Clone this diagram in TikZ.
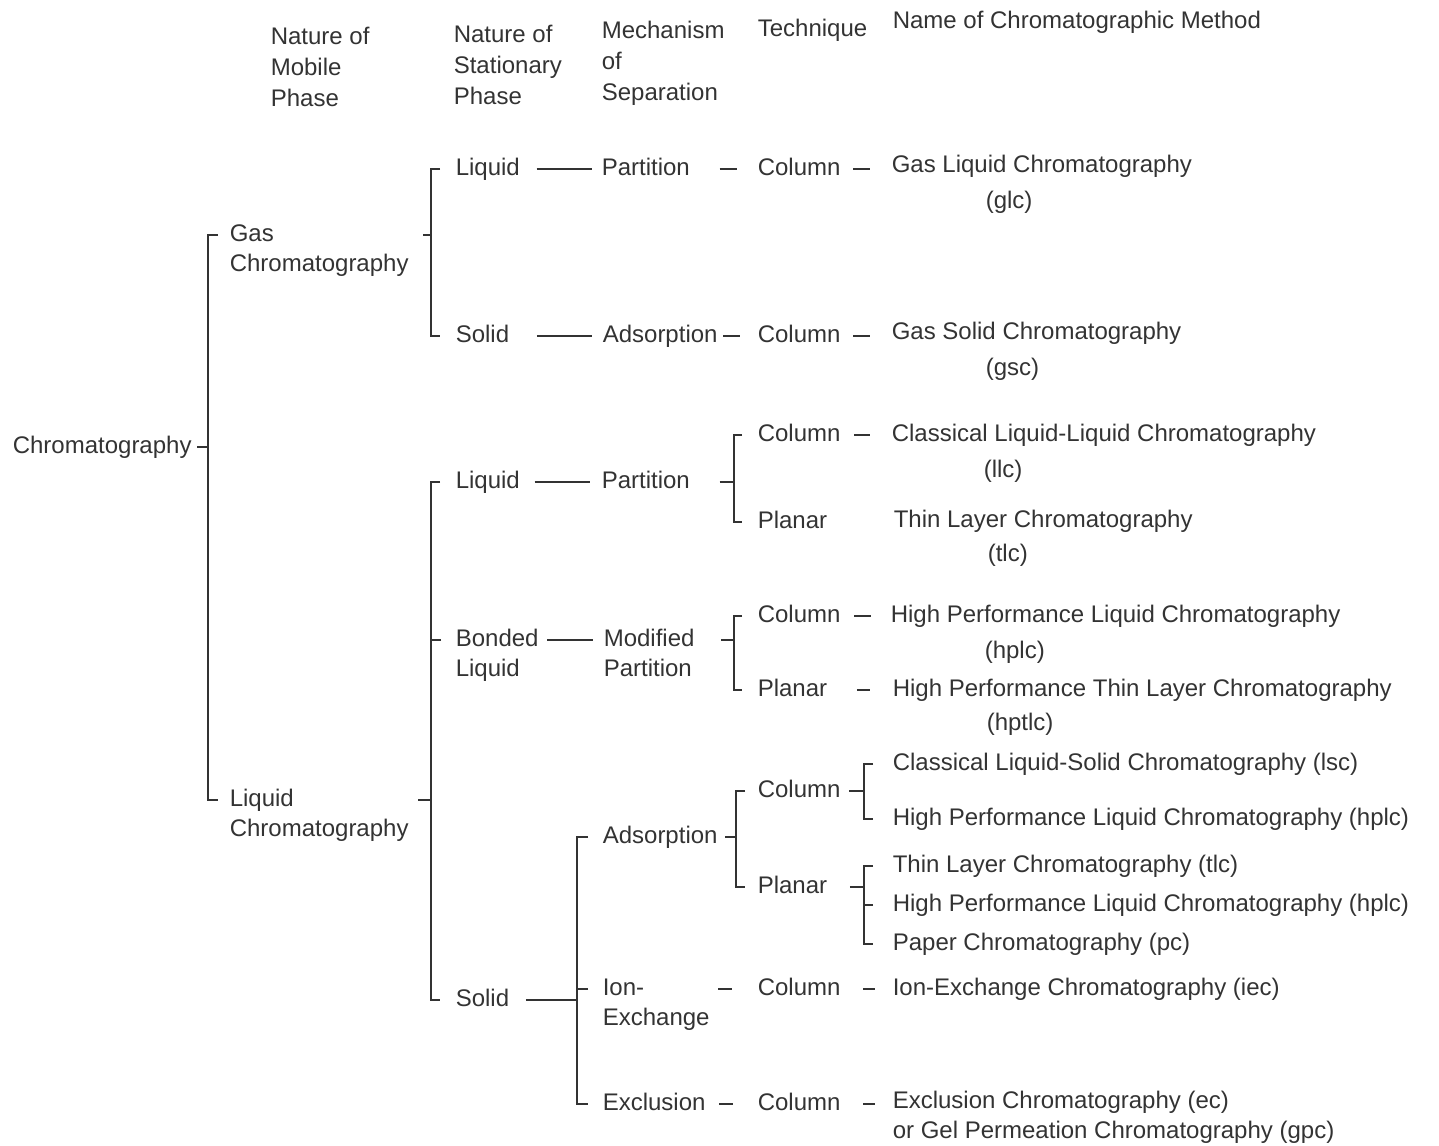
\documentclass[tikz,border=0pt]{standalone}
\usepackage{fontspec}
\setmainfont{Liberation Sans}
\newcommand{\mlines}[1]{\begin{tabular}[t]{@{}l@{}}#1\end{tabular}}

\begin{document}
\begin{tikzpicture}[x=0.5pt,y=-0.5pt,line width=0.8pt,color=black!80,
        every node/.style={font=\fontsize{12}{15}\selectfont},
        lbl/.style={anchor=west,inner sep=0pt,text height=9.6pt,text depth=2.8pt},
        colhead/.style={lbl,font=\fontsize{12}{15.5}\selectfont},
        tie/.style 2 args={shorten <=#1,shorten >=#2},
        fork/.style={shorten <=#1,shorten >=#1}]
    \useasboundingbox (0,0) rectangle (1439,1145);

    % column heads
    \node[colhead] (hmob) at (270,38) {\mlines{Nature of\\Mobile\\Phase}};
    \node[colhead] (hsta) at (453,36) {\mlines{Nature of\\Stationary\\Phase}};
    \node[colhead] (hmec) at (601,32) {\mlines{Mechanism\\of\\Separation}};
    \node[colhead] (htec) at (757,30) {Technique};
    \node[colhead] (hname) at (892,22) {Name of Chromatographic Method};

    % mobile phase
    \node[lbl] (chrom) at (12,447) {Chromatography};
    \node[lbl] (gc) at (229,235) {\mlines{Gas\\Chromatography}};
    \node[lbl] (lc) at (229,800) {\mlines{Liquid\\Chromatography}};

    % gas chromatography
    \node[lbl] (liq1) at (455,169) {Liquid};
    \node[lbl] (par1) at (601,169) {Partition};
    \node[lbl] (col1) at (757,169) {Column};
    \node[lbl] (glc) at (891,166) {\mlines{Gas Liquid Chromatography\\[3pt]\hspace*{47pt}(glc)}};
    \node[lbl] (sol1) at (455,336) {Solid};
    \node[lbl] (ads1) at (602,336) {Adsorption};
    \node[lbl] (col2) at (757,336) {Column};
    \node[lbl] (gsc) at (891,333) {\mlines{Gas Solid Chromatography\\[3pt]\hspace*{47pt}(gsc)}};

    % liquid chromatography
    \node[lbl] (liq2) at (455,482) {Liquid};
    \node[lbl] (par2) at (601,482) {Partition};
    \node[lbl] (col3) at (757,435) {Column};
    \node[lbl] (llc) at (891,435) {\mlines{Classical Liquid-Liquid Chromatography\\[3pt]\hspace*{46pt}(llc)}};
    \node[lbl] (pla1) at (757,522) {Planar};
    \node[lbl] (tlc1) at (893,521) {\mlines{Thin Layer Chromatography\\[2pt]\hspace*{47pt}(tlc)}};

    \node[lbl] (bl) at (455,640) {\mlines{Bonded\\Liquid}};
    \node[lbl] (mp) at (603,640) {\mlines{Modified\\Partition}};
    \node[lbl] (col4) at (757,616) {Column};
    \node[lbl] (hplc1) at (890,616) {\mlines{High Performance Liquid Chromatography\\[3pt]\hspace*{47pt}(hplc)}};
    \node[lbl] (pla2) at (757,690) {Planar};
    \node[lbl] (hptlc) at (892,690) {\mlines{High Performance Thin Layer Chromatography\\[2pt]\hspace*{47pt}(hptlc)}};

    \node[lbl] (sol2) at (455,1000) {Solid};
    \node[lbl] (ads2) at (602,837) {Adsorption};
    \node[lbl] (col5) at (757,791) {Column};
    \node[lbl] (lsc) at (892,764) {Classical Liquid-Solid Chromatography (lsc)};
    \node[lbl] (hplc2) at (892,819) {High Performance Liquid Chromatography (hplc)};
    \node[lbl] (pla3) at (757,887) {Planar};
    \node[lbl] (tlc2) at (892,866) {Thin Layer Chromatography (tlc)};
    \node[lbl] (hplc3) at (892,905) {High Performance Liquid Chromatography (hplc)};
    \node[lbl] (pc) at (892,944) {Paper Chromatography (pc)};
    \node[lbl] (ion) at (602,989) {\mlines{Ion-\\Exchange}};
    \node[lbl] (col6) at (757,989) {Column};
    \node[lbl] (iec) at (892,989) {Ion-Exchange Chromatography (iec)};
    \node[lbl] (exc) at (602,1104) {Exclusion};
    \node[lbl] (col7) at (757,1104) {Column};
    \node[lbl] (ec) at (892,1102) {\mlines{Exclusion Chromatography (ec)\\or Gel Permeation Chromatography (gpc)}};

    % spines of the brackets
    \coordinate (s0) at (208,447);
    \coordinate (s1) at (431,235);
    \coordinate (s2) at (431,800);
    \coordinate (s3) at (734,482);
    \coordinate (s4) at (734,640);
    \coordinate (s5) at (577,1000);
    \coordinate (s6) at (736,837);
    \coordinate (s7) at (864,791);
    \coordinate (s8) at (864,887);

    % brackets
    \draw[shorten <=2.5pt] (chrom) -- (s0);
    \draw[fork=5.5pt] (gc.west) -| (s0) |- (lc.west);
    \draw[shorten <=7pt] (gc.east) -- (s1);
    \draw[fork=7.5pt] (liq1.west) -| (s1) |- (sol1.west);
    \draw[shorten <=4.5pt] (lc.east) -- (s2);
    \draw[fork=7.5pt] (liq2.west) -| (s2) |- (sol2.west);
    \draw[shorten <=7pt] (bl.west) -- (bl.west -| s2);
    \draw[shorten <=14.5pt] (par2) -- (s3);
    \draw[fork=7.5pt] (col3.west) -| (s3) |- (pla1.west);
    \draw[shorten <=13pt] (mp.east) -- (s4);
    \draw[fork=7.5pt] (col4.west) -| (s4) |- (pla2.west);
    \draw[shorten <=8pt] (sol2) -- (s5);
    \draw[fork=7pt] (ads2.west) -| (s5) |- (exc.west);
    \draw[shorten <=7pt] (ion.west) -- (ion.west -| s5);
    \draw[shorten <=3.5pt] (ads2) -- (s6);
    \draw[fork=6pt] (col5.west) -| (s6) |- (pla3.west);
    \draw[shorten <=4pt] (col5) -- (s7);
    \draw[fork=9.5pt] (lsc.west) -| (s7) |- (hplc2.west);
    \draw[shorten <=11pt] (pla3) -- (s8);
    \draw[fork=9.5pt] (tlc2.west) -| (s8) |- (pc.west);
    \draw[shorten <=9.5pt] (hplc3.west) -- (hplc3.west -| s8);

    % dashes along the rows
    \draw[tie={8pt}{4.5pt}] (liq1) -- (par1);
    \draw[tie={14.5pt}{10pt}] (par1) -- (col1);
    \draw[tie={6pt}{10.5pt}] (col1) -- (col1 -| glc.west);
    \draw[tie={13.5pt}{5pt}] (sol1) -- (ads1);
    \draw[tie={2.5pt}{8.5pt}] (ads1) -- (col2);
    \draw[tie={6pt}{10.5pt}] (col2) -- (col2 -| gsc.west);
    \draw[tie={7pt}{5.5pt}] (liq2) -- (par2);
    \draw[tie={6.5pt}{10.5pt}] (col3) -- (llc.west);
    \draw[tie={4pt}{5pt}] (bl.east) -- (mp.west);
    \draw[tie={6.5pt}{9.5pt}] (col4) -- (hplc1.west);
    \draw[tie={14.5pt}{11pt}] (pla2) -- (hptlc.west);
    \draw[tie={4pt}{12.5pt}] (ion.east) -- (col6);
    \draw[tie={11pt}{8.5pt}] (col6) -- (iec);
    \draw[tie={6.5pt}{12pt}] (exc) -- (col7);
    \draw[tie={11pt}{8.5pt}] (col7) -- (col7 -| ec.west);
\end{tikzpicture}
\end{document}
